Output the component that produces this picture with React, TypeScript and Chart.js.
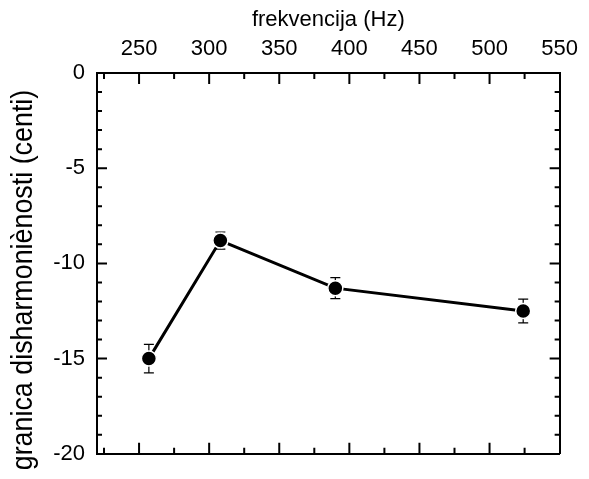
import React, { useEffect, useRef } from "react";
import { Chart, registerables } from "chart.js";

Chart.register(...registerables);

const frequencies = [257, 308, 390, 524];
const thresholds = [-15.0, -8.8, -11.3, -12.5];
const errors = [0.75, 0.45, 0.55, 0.62];

const xMajorTicks = [250, 300, 350, 400, 450, 500, 550];
const xMinorTicks = [225, 275, 325, 375, 425, 475, 525];
const yMajorTicks = [0, -5, -10, -15, -20];
const yMinorTicks = [-1, -2, -3, -4, -6, -7, -8, -9, -11, -12, -13, -14, -16, -17, -18, -19];

const xTitle = "frekvencija (Hz)";
const yTitle = "granica disharmoniènosti (centi)";

const FONT = "'Liberation Sans', Arial, Helvetica, sans-serif";

const tickMarksPlugin = {
  id: "tickMarks",
  afterDraw(chart: any) {
    const { ctx, chartArea, scales } = chart;
    const xs = scales.x;
    const ys = scales.y;
    ctx.save();
    ctx.strokeStyle = "#000";
    ctx.lineWidth = 2;
    ctx.beginPath();
    const drawX = (v: number, len: number) => {
      const px = xs.getPixelForValue(v);
      if (px <= chartArea.left + 1 || px >= chartArea.right - 1) return;
      ctx.moveTo(px, chartArea.top);
      ctx.lineTo(px, chartArea.top + len);
      ctx.moveTo(px, chartArea.bottom);
      ctx.lineTo(px, chartArea.bottom - len);
    };
    const drawY = (v: number, len: number) => {
      const py = ys.getPixelForValue(v);
      if (py <= chartArea.top + 1 || py >= chartArea.bottom - 1) return;
      ctx.moveTo(chartArea.left, py);
      ctx.lineTo(chartArea.left + len, py);
      ctx.moveTo(chartArea.right, py);
      ctx.lineTo(chartArea.right - len, py);
    };
    xMajorTicks.forEach((v) => drawX(v, 11));
    xMinorTicks.forEach((v) => drawX(v, 6));
    yMajorTicks.forEach((v) => drawY(v, 10));
    yMinorTicks.forEach((v) => drawY(v, 5));
    ctx.stroke();

    // rotated y-axis title
    ctx.fillStyle = "#000";
    ctx.font = `30px ${FONT}`;
    ctx.translate(32, 280);
    ctx.rotate(-Math.PI / 2);
    ctx.scale(0.895, 1);
    ctx.textAlign = "center";
    ctx.textBaseline = "alphabetic";
    ctx.fillText(yTitle, 0, 0);
    ctx.restore();
  },
};

const errorBarsPlugin = {
  id: "errorBars",
  beforeDatasetsDraw(chart: any) {
    const { ctx, scales } = chart;
    const xs = scales.x;
    const ys = scales.y;
    ctx.save();
    ctx.strokeStyle = "#000";
    ctx.lineWidth = 1.2;
    ctx.beginPath();
    frequencies.forEach((f, i) => {
      const px = xs.getPixelForValue(f);
      const top = ys.getPixelForValue(thresholds[i] + errors[i]);
      const bot = ys.getPixelForValue(thresholds[i] - errors[i]);
      ctx.moveTo(px, top);
      ctx.lineTo(px, bot);
      ctx.moveTo(px - 5, top);
      ctx.lineTo(px + 5, top);
      ctx.moveTo(px - 5, bot);
      ctx.lineTo(px + 5, bot);
    });
    ctx.stroke();
    ctx.restore();
  },
};

export default function App() {
  const canvasRef = useRef<HTMLCanvasElement | null>(null);

  useEffect(() => {
    document.body.style.margin = "0";
    const canvas = canvasRef.current;
    if (!canvas) return;
    const border = { display: true, color: "#000", width: 2 };
    const grid = { display: true, drawOnChartArea: false, drawTicks: false };
    const chart = new Chart(canvas, {
      type: "line",
      data: {
        datasets: [
          {
            data: frequencies.map((f, i) => ({ x: f, y: thresholds[i] })),
            xAxisID: "x",
            yAxisID: "y",
            borderColor: "#000",
            borderWidth: 3,
            backgroundColor: "#000",
            pointRadius: 7.5,
            pointBorderColor: "#fff",
            pointBorderWidth: 1.5,
            pointBackgroundColor: "#000",
            tension: 0,
            fill: false,
          },
        ],
      },
      options: {
        animation: false,
        responsive: false,
        devicePixelRatio: 1,
        layout: { padding: 0 },
        plugins: {
          legend: { display: false },
          tooltip: { enabled: false },
        },
        scales: {
          x: {
            type: "linear",
            position: "top",
            min: 220,
            max: 550,
            grid,
            border,
            afterBuildTicks: (s: any) => {
              s.ticks = xMajorTicks.map((v) => ({ value: v }));
            },
            afterFit: (s: any) => {
              s.height = 73;
            },
            ticks: {
              padding: 11,
              color: "#000",
              maxRotation: 0,
              autoSkip: false,
              font: { family: FONT, size: 22 },
            },
            title: {
              display: true,
              text: xTitle,
              color: "#000",
              padding: { top: 7, bottom: 0 },
              font: { family: FONT, size: 22 },
            },
          },
          x2: {
            type: "linear",
            position: "bottom",
            min: 220,
            max: 550,
            grid,
            border,
            ticks: { display: false },
            afterFit: (s: any) => {
              s.height = 20;
            },
          },
          y: {
            type: "linear",
            position: "left",
            min: -20,
            max: 0,
            grid,
            border,
            afterBuildTicks: (s: any) => {
              s.ticks = yMajorTicks.map((v) => ({ value: v }));
            },
            afterFit: (s: any) => {
              s.width = 97;
            },
            ticks: {
              padding: 12,
              color: "#000",
              autoSkip: false,
              font: { family: FONT, size: 22 },
            },
          },
          y2: {
            type: "linear",
            position: "right",
            min: -20,
            max: 0,
            grid,
            border,
            ticks: { display: false },
            afterFit: (s: any) => {
              s.width = 21;
            },
          },
        },
      },
      plugins: [tickMarksPlugin, errorBarsPlugin],
    } as any);
    return () => chart.destroy();
  }, []);

  return (
    <div style={{ position: "absolute", left: 0, top: 0, width: 589, height: 479 }}>
      <canvas ref={canvasRef} width={589} height={479} />
    </div>
  );
}
